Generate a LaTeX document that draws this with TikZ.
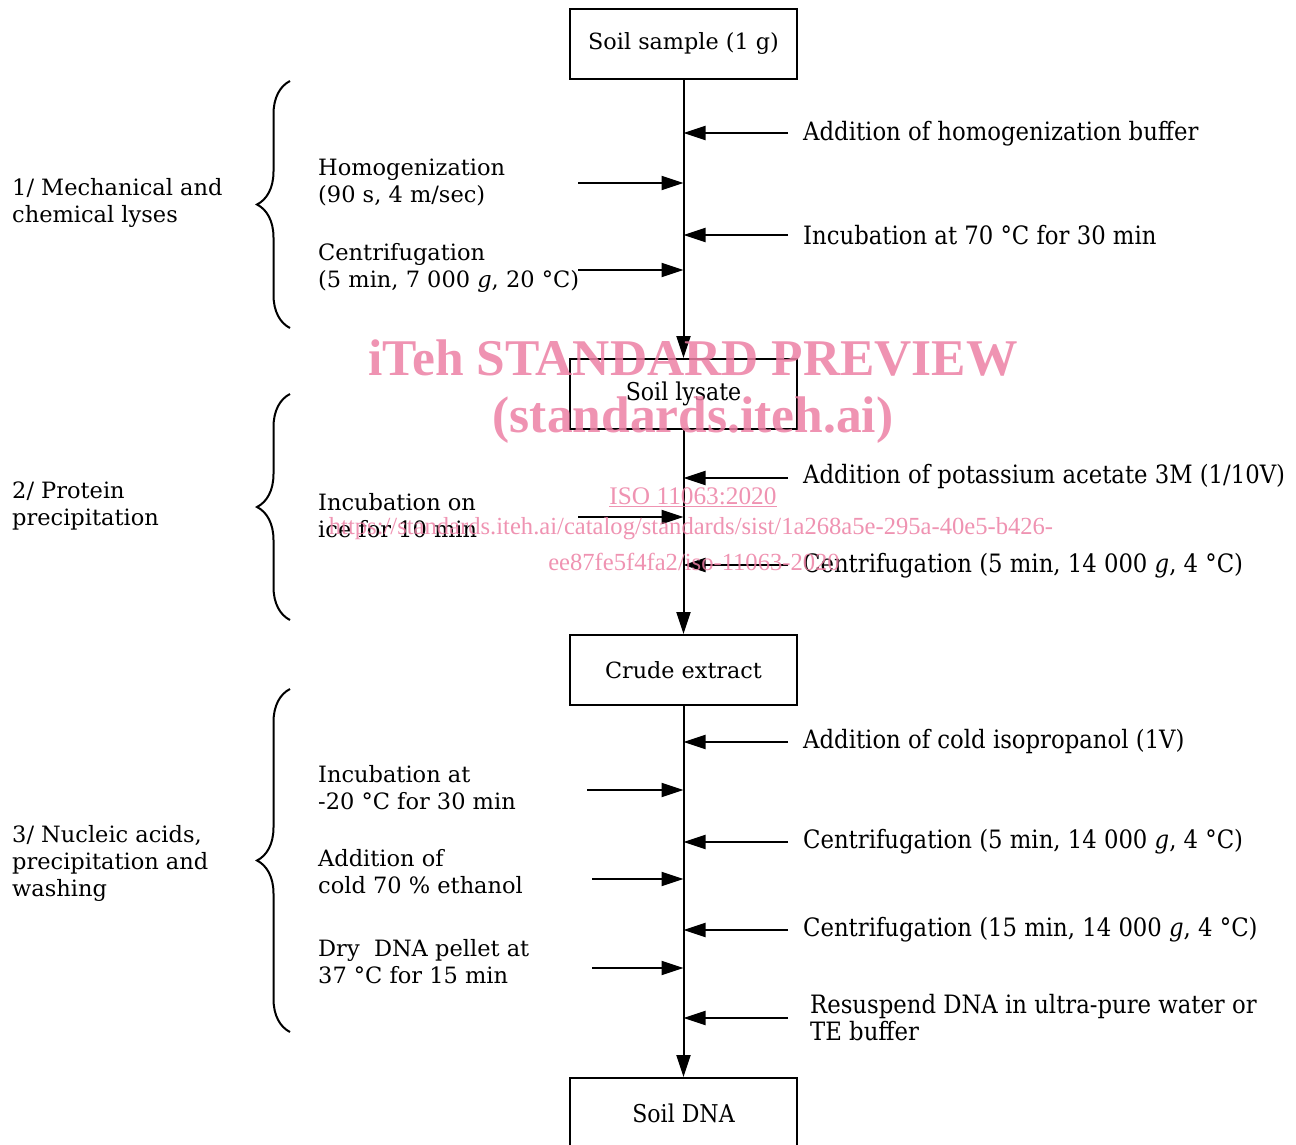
\documentclass[tikz,border=0pt]{standalone}
\usepackage{fontspec}
\setmainfont{DejaVu Serif}
\newfontfamily\condf{DejaVu Serif Condensed}
\newfontfamily\wmf{Liberation Serif}
\usetikzlibrary{arrows.meta,decorations.pathreplacing}
\definecolor{wmpink}{RGB}{236,128,164}
\begin{document}
\begin{tikzpicture}[x=1pt,y=-1pt,
 txt/.style={font=\fontsize{22.5}{27}\selectfont},
 btxt/.style={font=\fontsize{22.3}{27}\selectfont},
 ctxt/.style={font=\condf\fontsize{25.3}{27}\selectfont},
 bctxt/.style={font=\condf\fontsize{24.5}{27}\selectfont},
 box/.style={draw,line width=2pt,minimum width=227pt,minimum height=70pt,inner sep=0},
 flow/.style={line width=2pt,-{Triangle[length=22pt,width=14pt]}},
 lbl/.style={anchor=west,align=left,inner sep=0,txt},
 rlbl/.style={anchor=west,align=left,inner sep=0,ctxt},
 brc/.style={decorate,decoration={brace,amplitude=33pt},line width=2pt},
 wm/.style={text=wmpink,text opacity=0.85,inner sep=0}
]
\useasboundingbox (0,0) rectangle (1296,1144);
% boxes
\node[box,btxt]  (b1) at (683.5,43.5) {Soil sample (1 g)};
\node[box,bctxt] (b2) at (683.5,394) {Soil lysate};
\node[box,btxt]  (b3) at (683.5,670) {Crude extract};
\node[box,bctxt] (b4) at (683.5,1113) {Soil DNA};
% main flow
\draw[flow] (b1) -- (b2);
\draw[flow] (b2) -- (b3);
\draw[flow] (b3) -- (b4);
% right-hand additions
\foreach \n/\y in {r1/133,r2/235,r3/478,r4/565,r5/742,r6/842,r7/930,r8/1018}
  \coordinate (\n) at (788,\y);
\foreach \n in {r1,r2,r3,r4,r5,r6,r7,r8}
  \draw[flow] (\n) -- (\n -| b1.south);
\node[rlbl] (t1) at (803,134) {Addition of homogenization buffer};
\node[rlbl] (t2) at (803,235) {Incubation at 70 °C for 30 min};
\node[rlbl] (t3) at (803,477) {Addition of potassium acetate 3M (1/10V)};
\node[rlbl] (t4) at (803,566) {Centrifugation (5 min, 14 000 \textit{g}, 4 °C)};
\node[rlbl] (t5) at (803,742) {Addition of cold isopropanol (1V)};
\node[rlbl] (t6) at (803,842) {Centrifugation (5 min, 14 000 \textit{g}, 4 °C)};
\node[rlbl] (t7) at (803,930) {Centrifugation (15 min, 14 000 \textit{g}, 4 °C)};
\node[rlbl] (t8) at (810,1018) {Resuspend DNA in ultra-pure water or\\TE buffer};
% left-hand steps
\coordinate (l1) at (578,183);
\coordinate (l2) at (578,270);
\coordinate (l3) at (578,517);
\coordinate (l4) at (587,790);
\coordinate (l5) at (592,879);
\coordinate (l6) at (592,968);
\foreach \n in {l1,l2,l3,l4,l5,l6}
  \draw[flow] (\n) -- (\n -| b1.south);
\node[lbl] (s1) at (318,182) {Homogenization\\(90 s, 4 m/sec)};
\node[lbl] (s2) at (318,268) {Centrifugation\\(5 min, 7 000 \textit{g}, 20 °C)};
\node[lbl] (s3) at (318,516) {Incubation on\\ice for 10 min};
\node[lbl] (s4) at (318,788) {Incubation at\\-20 °C for 30 min};
\node[lbl] (s5) at (318,872) {Addition of\\cold 70 \% ethanol};
\node[lbl] (s6) at (318,962) {Dry\ \ DNA pellet at\\37 °C for 15 min};
% braces
\draw[brc] (290,328) -- (290,81);
\draw[brc] (290,620) -- (290,394);
\draw[brc] (290,1032) -- (290,689);
\node[lbl] (g1) at (12,203) {1/ Mechanical and\\chemical lyses};
\node[lbl] (g2) at (12,506) {2/ Protein\\precipitation};
\node[lbl] (g3) at (12,863) {3/ Nucleic acids,\\precipitation and\\washing};
% watermark
\node[wm,font=\wmf\bfseries\fontsize{51.5}{51.5}\selectfont] (w1) at (693,358) {iTeh STANDARD PREVIEW};
\node[wm,font=\wmf\bfseries\fontsize{51.5}{51.5}\selectfont] (w2) at (693,420) {(standards.iteh.ai)};
\node[wm,font=\wmf\fontsize{25.3}{25}\selectfont] (w3) at (693,497) {\underline{ISO 11063:2020}};
\node[wm,font=\wmf\fontsize{24.6}{24}\selectfont] (w4) at (691,529) {https://standards.iteh.ai/catalog/standards/sist/1a268a5e-295a-40e5-b426-};
\node[wm,font=\wmf\fontsize{24.6}{24}\selectfont] (w5) at (694,562) {ee87fe5f4fa2/iso-11063-2020};
\end{tikzpicture}
\end{document}
